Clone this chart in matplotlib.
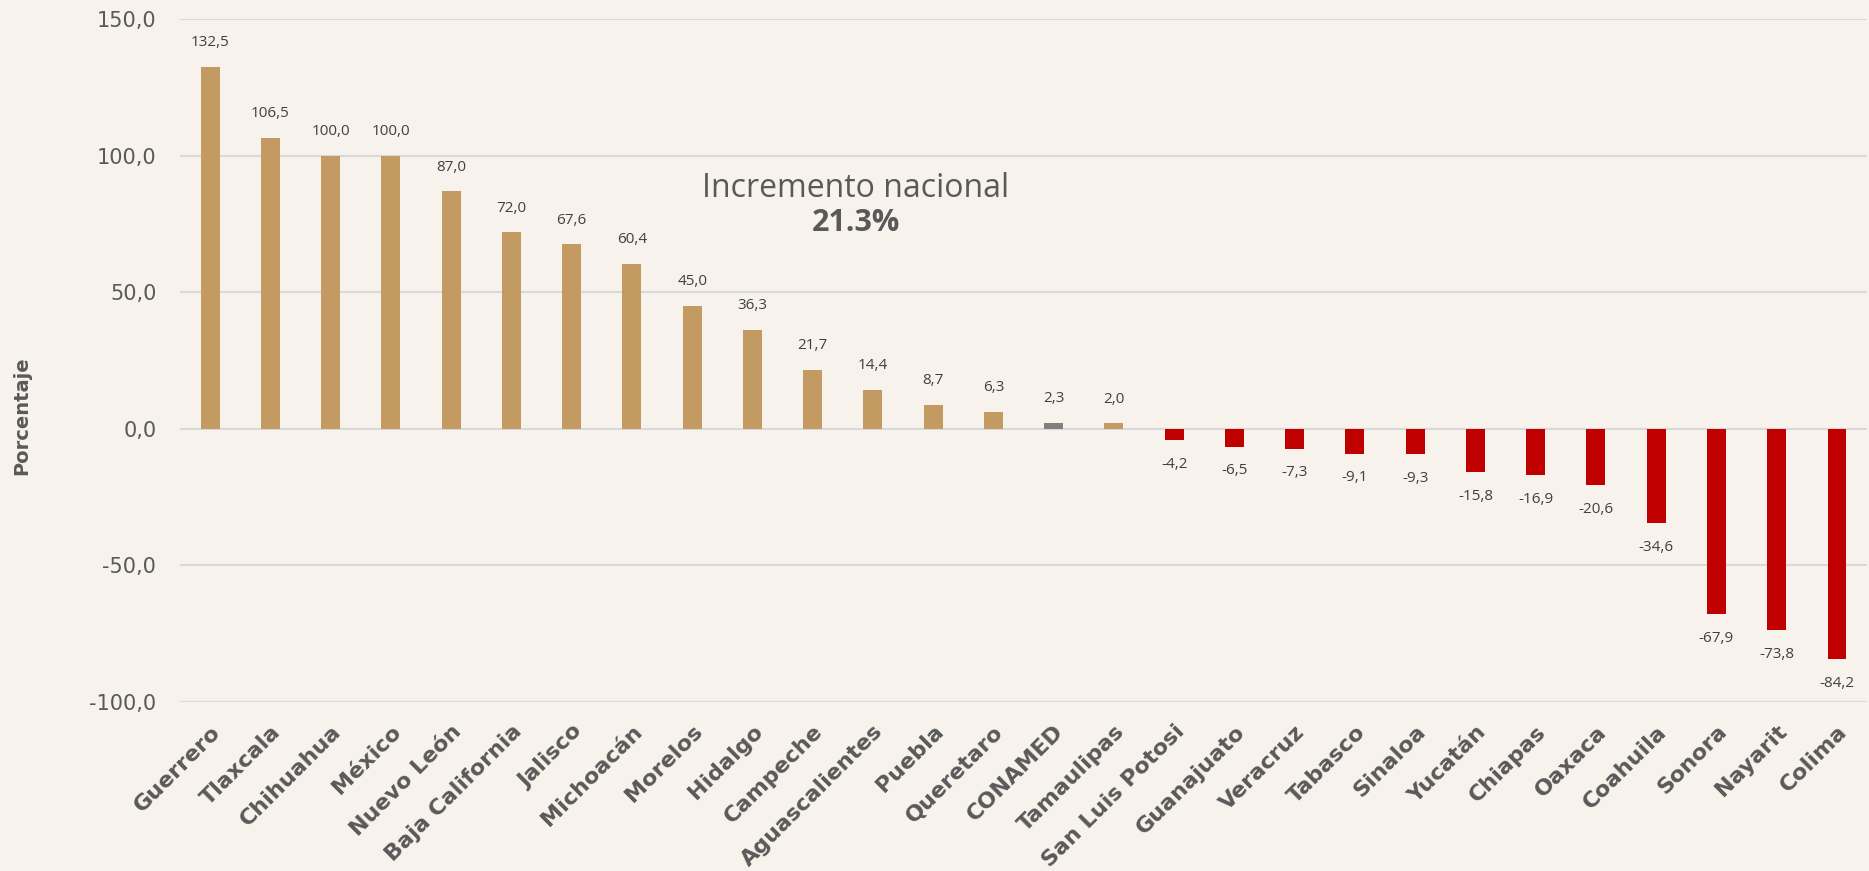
import numpy as np
import matplotlib
matplotlib.use("Agg")
import matplotlib.pyplot as plt

estados = ["Guerrero", "Tlaxcala", "Chihuahua", "México", "Nuevo León", "Baja California",
           "Jalisco", "Michoacán", "Morelos", "Hidalgo", "Campeche", "Aguascalientes",
           "Puebla", "Queretaro", "CONAMED", "Tamaulipas", "San Luis Potosi", "Guanajuato",
           "Veracruz", "Tabasco", "Sinaloa", "Yucatán", "Chiapas", "Oaxaca", "Coahuila",
           "Sonora", "Nayarit", "Colima"]
valores = [132.5, 106.5, 100.0, 100.0, 87.0, 72.0, 67.6, 60.4, 45.0, 36.3, 21.7, 14.4,
           8.7, 6.3, 2.3, 2.0, -4.2, -6.5, -7.3, -9.1, -9.3, -15.8, -16.9, -20.6, -34.6,
           -67.9, -73.8, -84.2]
yticks = [-100, -50, 0, 50, 100, 150]

bg = "#F7F2EC"
oro = "#C49A63"
rojo = "#C00000"
gris = "#808080"
texto = "#595959"

plt.rcParams['font.family'] = ['Open Sans', 'DejaVu Sans']

colores = []
for e, v in zip(estados, valores):
    if e == "CONAMED":
        colores.append(gris)
    elif v >= 0:
        colores.append(oro)
    else:
        colores.append(rojo)

fig = plt.figure(figsize=(18.69, 8.71), dpi=100, facecolor=bg)
ax = fig.add_axes([0.0963, 0.194, 0.9027, 0.784])
ax.set_facecolor(bg)

x = np.arange(len(estados))
ax.bar(x, valores, width=0.315, color=colores, zorder=3)

for xi, v in zip(x, valores):
    txt = "{:.1f}".format(v).replace(".", ",")
    if v >= 0:
        ax.annotate(txt, (xi, v), xytext=(0, 12), textcoords="offset points",
                    ha="center", va="bottom", fontsize=11, color="#404040")
    else:
        ax.annotate(txt, (xi, v), xytext=(0, -12), textcoords="offset points",
                    ha="center", va="top", fontsize=11, color="#404040")

ax.set_xlim(-0.5, len(estados) - 0.5)
ax.set_ylim(-100, 150)
ax.set_yticks(yticks)
ax.set_yticklabels(["{:.1f}".format(t).replace(".", ",") for t in yticks],
                   fontsize=15, color=texto, family="DejaVu Sans")
ax.grid(axis="y", color="#D9D9D9", linewidth=1.5, zorder=0)
ax.tick_params(axis="y", length=0, pad=17)
ax.tick_params(axis="x", length=0, pad=14)
ax.set_xticks(x)
ax.set_xticklabels(estados, rotation=45, ha="right", rotation_mode="anchor",
                   fontsize=16, fontweight="bold", color=texto, family="DejaVu Sans")
for s in ax.spines.values():
    s.set_visible(False)

fig.text(0.0118, 0.523, "Porcentaje", rotation=90, ha="center", va="center",
         fontsize=14, fontweight="bold", color=texto, family="DejaVu Sans")

ax.text(0.4007, 0.7526, "Incremento nacional", transform=ax.transAxes,
        ha="center", va="center", fontsize=23, color=texto)
ax.text(0.4007, 0.701, "21.3%", transform=ax.transAxes,
        ha="center", va="center", fontsize=22, fontweight="bold", color=texto)

fig.savefig("out.png", dpi=100, facecolor=bg)
